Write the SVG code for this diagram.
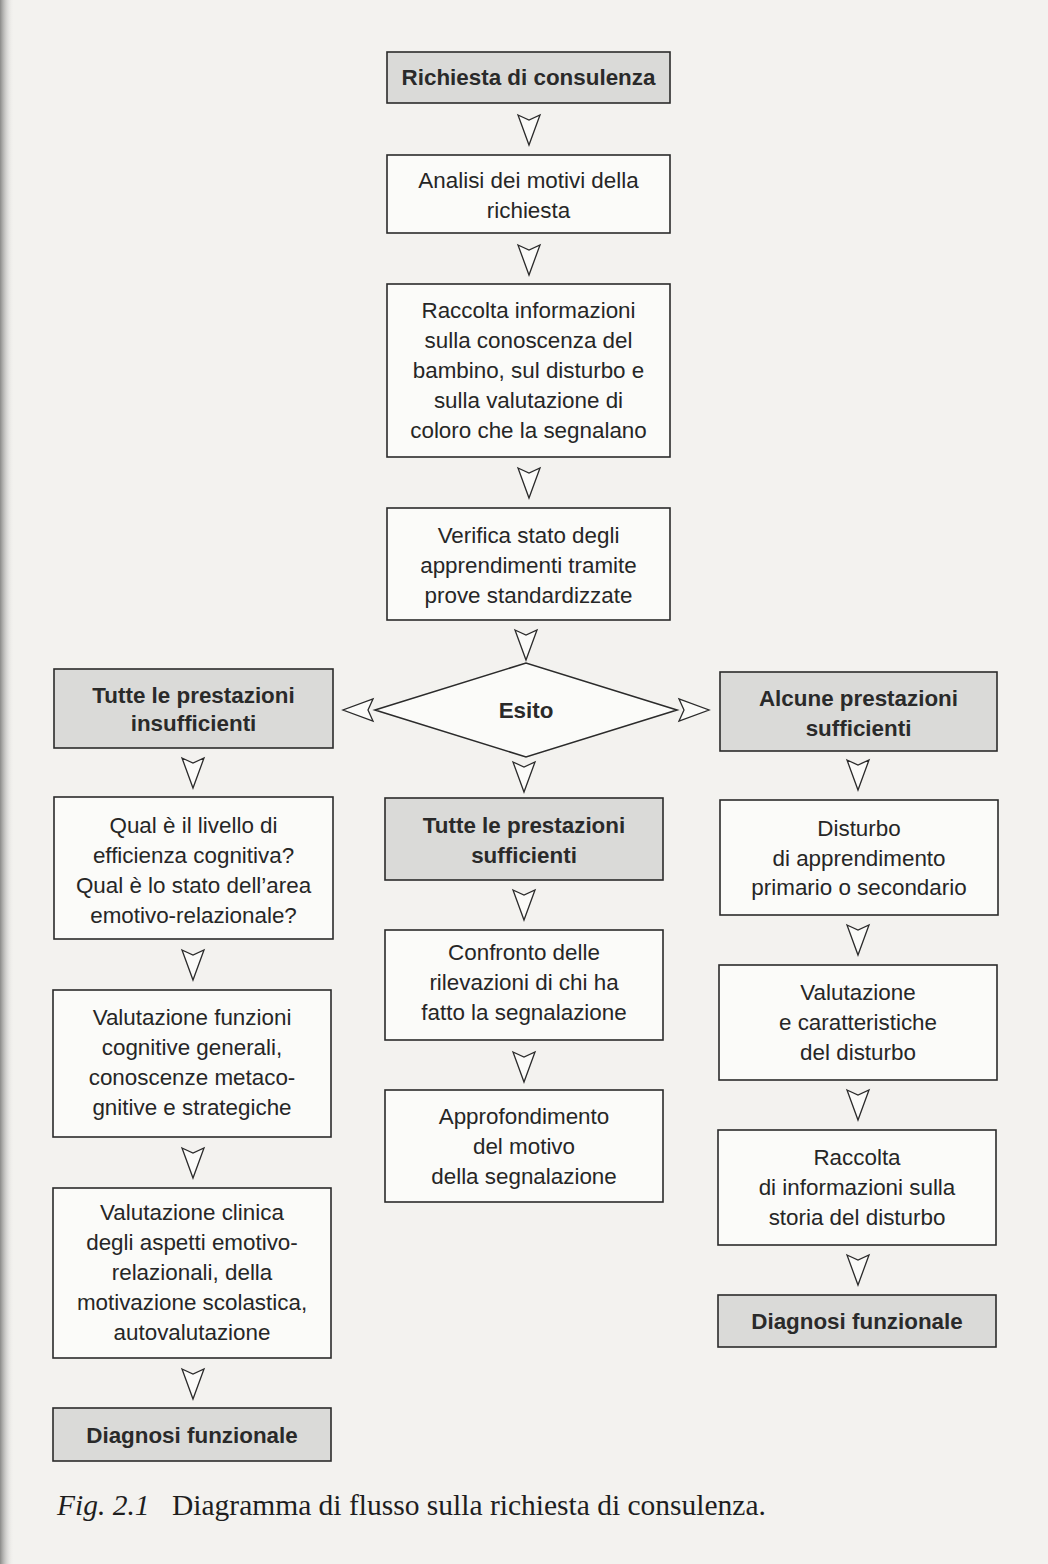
<svg xmlns="http://www.w3.org/2000/svg" xmlns:xlink="http://www.w3.org/1999/xlink" width="1048" height="1564" viewBox="0 0 1048 1564">
<style>
.box{fill:#fbfbf9;stroke:#2b2b2b;stroke-width:1.6}
.gbox{fill:#dadad8;stroke:#2b2b2b;stroke-width:1.6}
.t{font-family:"Liberation Sans",Arial,sans-serif;font-size:22.4px;fill:#262626;text-anchor:middle}
.b{font-family:"Liberation Sans",Arial,sans-serif;font-size:22.4px;font-weight:bold;fill:#2a2a2a;text-anchor:middle}
.arr{fill:#fbfbf9;stroke:#2b2b2b;stroke-width:1.3;stroke-linejoin:miter}
.cap{font-family:"Liberation Serif","Times New Roman",serif;font-size:29.5px;fill:#1e1e1e}
</style>
<defs>
<path id="arr" class="arr" d="M-11,0 L0,5 L11,0 L0,30 Z"/>
<linearGradient id="edge" x1="0" y1="0" x2="1" y2="0">
<stop offset="0" stop-color="#8a8a88"/>
<stop offset="1" stop-color="#f3f2ef" stop-opacity="0"/>
</linearGradient>
</defs>
<rect x="0" y="0" width="1048" height="1564" fill="#f3f2ef"/>
<rect x="0" y="0" width="14" height="1564" fill="url(#edge)"/>

<g id="connectors">
<use href="#arr" x="529" y="115"/>
<use href="#arr" x="529" y="245"/>
<use href="#arr" x="529" y="468"/>
<use href="#arr" x="526" y="630"/>
<use href="#arr" transform="translate(373,710) rotate(90)"/>
<use href="#arr" transform="translate(679,710) rotate(-90)"/>
<use href="#arr" x="524" y="762"/>
<use href="#arr" x="524" y="890"/>
<use href="#arr" x="524" y="1052"/>
<use href="#arr" x="193" y="758"/>
<use href="#arr" x="193" y="950"/>
<use href="#arr" x="193" y="1148"/>
<use href="#arr" x="193" y="1369"/>
<use href="#arr" x="858" y="760"/>
<use href="#arr" x="858" y="925"/>
<use href="#arr" x="858" y="1090"/>
<use href="#arr" x="858" y="1255"/>
</g>

<g id="n1"><rect class="gbox" x="387" y="52" width="283" height="51"/><text class="b" x="528.5" y="85">Richiesta di consulenza</text></g>
<g id="n2"><rect class="box" x="387" y="155" width="283" height="78"/><text class="t" x="528.5" y="188">Analisi dei motivi della</text><text class="t" x="528.5" y="218">richiesta</text></g>
<g id="n3"><rect class="box" x="387" y="284" width="283" height="173"/>
<text class="t" x="528.5" y="318">Raccolta informazioni</text>
<text class="t" x="528.5" y="348">sulla conoscenza del</text>
<text class="t" x="528.5" y="378">bambino, sul disturbo e</text>
<text class="t" x="528.5" y="408">sulla valutazione di</text>
<text class="t" x="528.5" y="438">coloro che la segnalano</text></g>
<g id="n4"><rect class="box" x="387" y="508" width="283" height="112"/>
<text class="t" x="528.5" y="543">Verifica stato degli</text>
<text class="t" x="528.5" y="573">apprendimenti tramite</text>
<text class="t" x="528.5" y="603">prove standardizzate</text></g>
<g id="n5"><polygon class="box" points="375,710 526,663 677,710 526,757"/><text class="b" x="526" y="718">Esito</text></g>
<g id="n6"><rect class="gbox" x="54" y="669" width="279" height="79"/>
<text class="b" x="193.5" y="703">Tutte le prestazioni</text>
<text class="b" x="193.5" y="731">insufficienti</text></g>
<g id="n7"><rect class="box" x="54" y="797" width="279" height="142"/>
<text class="t" x="193.5" y="833">Qual è il livello di</text>
<text class="t" x="193.5" y="863">efficienza cognitiva?</text>
<text class="t" x="193.5" y="893">Qual è lo stato dell’area</text>
<text class="t" x="193.5" y="923">emotivo-relazionale?</text></g>
<g id="n8"><rect class="box" x="53" y="990" width="278" height="147"/>
<text class="t" x="192" y="1025">Valutazione funzioni</text>
<text class="t" x="192" y="1055">cognitive generali,</text>
<text class="t" x="192" y="1085">conoscenze metaco-</text>
<text class="t" x="192" y="1115">gnitive e strategiche</text></g>
<g id="n9"><rect class="box" x="53" y="1188" width="278" height="170"/>
<text class="t" x="192" y="1220">Valutazione clinica</text>
<text class="t" x="192" y="1250">degli aspetti emotivo-</text>
<text class="t" x="192" y="1280">relazionali, della</text>
<text class="t" x="192" y="1310">motivazione scolastica,</text>
<text class="t" x="192" y="1340">autovalutazione</text></g>
<g id="n10"><rect class="gbox" x="53" y="1408" width="278" height="53"/><text class="b" x="192" y="1443">Diagnosi funzionale</text></g>
<g id="n11"><rect class="gbox" x="385" y="798" width="278" height="82"/>
<text class="b" x="524" y="833">Tutte le prestazioni</text>
<text class="b" x="524" y="863">sufficienti</text></g>
<g id="n12"><rect class="box" x="385" y="930" width="278" height="110"/>
<text class="t" x="524" y="960">Confronto delle</text>
<text class="t" x="524" y="990">rilevazioni di chi ha</text>
<text class="t" x="524" y="1020">fatto la segnalazione</text></g>
<g id="n13"><rect class="box" x="385" y="1090" width="278" height="112"/>
<text class="t" x="524" y="1124">Approfondimento</text>
<text class="t" x="524" y="1154">del motivo</text>
<text class="t" x="524" y="1184">della segnalazione</text></g>
<g id="n14"><rect class="gbox" x="720" y="672" width="277" height="79"/>
<text class="b" x="858.5" y="706">Alcune prestazioni</text>
<text class="b" x="858.5" y="736">sufficienti</text></g>
<g id="n15"><rect class="box" x="720" y="800" width="278" height="115"/>
<text class="t" x="859" y="836">Disturbo</text>
<text class="t" x="859" y="866">di apprendimento</text>
<text class="t" x="859" y="895">primario o secondario</text></g>
<g id="n16"><rect class="box" x="719" y="965" width="278" height="115"/>
<text class="t" x="858" y="1000">Valutazione</text>
<text class="t" x="858" y="1030">e caratteristiche</text>
<text class="t" x="858" y="1060">del disturbo</text></g>
<g id="n17"><rect class="box" x="718" y="1130" width="278" height="115"/>
<text class="t" x="857" y="1165">Raccolta</text>
<text class="t" x="857" y="1195">di informazioni sulla</text>
<text class="t" x="857" y="1225">storia del disturbo</text></g>
<g id="n18"><rect class="gbox" x="718" y="1295" width="278" height="52"/><text class="b" x="857" y="1329">Diagnosi funzionale</text></g>

<text class="cap" x="57" y="1515"><tspan font-style="italic">Fig. 2.1</tspan><tspan x="172">Diagramma di flusso sulla richiesta di consulenza.</tspan></text>
</svg>
